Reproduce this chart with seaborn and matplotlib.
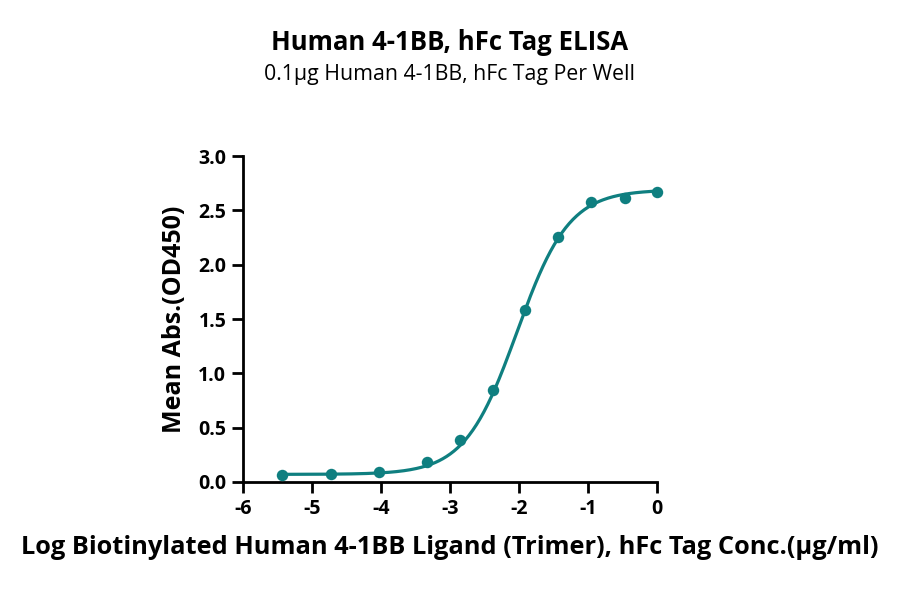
#------Import Modules--------------
import numpy as np
import pandas as pd
import matplotlib
matplotlib.use("Agg")
import matplotlib.pyplot as plt
import seaborn as sns

#-----------Data---------
log_conc = [-5.43, -4.73, -4.03, -3.34, -2.86, -2.38, -1.91, -1.43, -0.96, -0.47, 0.0]
mean_abs = [0.064, 0.070, 0.090, 0.180, 0.390, 0.850, 1.585, 2.257, 2.580, 2.615, 2.665]

x_ticks = [-6, -5, -4, -3, -2, -1, 0]
y_ticks = [0.0, 0.5, 1.0, 1.5, 2.0, 2.5, 3.0]

# 4PL fit parameters estimated from the curve
bottom, top, log_ec50, hill = 0.07, 2.69, -2.03, 1.15

teal = "#0f7f80"

points = pd.DataFrame({"x": log_conc, "y": mean_abs})
xs = np.linspace(min(log_conc), max(log_conc), 300)
fit = pd.DataFrame({"x": xs,
                    "y": bottom + (top - bottom) / (1 + 10 ** ((log_ec50 - xs) * hill))})

#------------------------------------------Visualization ------------------
sns.set_style("ticks")
plt.rcParams['font.family'] = ['Open Sans', 'DejaVu Sans']
plt.rcParams['axes.unicode_minus'] = False
plt.rcParams['text.color'] = 'black'
plt.rcParams['axes.labelcolor'] = 'black'
plt.rcParams['xtick.color'] = 'black'
plt.rcParams['ytick.color'] = 'black'

fig = plt.figure(figsize=(9, 5.89), dpi=100)
ax = fig.add_axes([0.27, 0.1817, 0.46, 0.5533])

sns.lineplot(x="x", y="y", data=fit, color=teal, linewidth=2.3, ax=ax)
sns.scatterplot(x="x", y="y", data=points, color=teal, s=68, edgecolor=teal,
                linewidth=0, ax=ax, zorder=3, clip_on=False)

ax.set_xlim(-6, 0)
ax.set_ylim(0, 3.0)
ax.set_xticks(x_ticks)
ax.set_xticklabels([str(v) for v in x_ticks], fontsize=14, fontweight="bold")
ax.set_yticks(y_ticks)
ax.set_yticklabels([f"{v:.1f}" for v in y_ticks], fontsize=14, fontweight="bold")
ax.tick_params(width=2, length=8, color="black", labelcolor="black", pad=4)
for s in ["left", "bottom"]:
    ax.spines[s].set_linewidth(2)
    ax.spines[s].set_color("black")
sns.despine(ax=ax)

ax.set_xlabel("Log Biotinylated Human 4-1BB Ligand (Trimer), hFc Tag Conc.(µg/ml)",
              fontsize=18.3, fontweight="bold", labelpad=12, color="black")
ax.set_ylabel("Mean Abs.(OD450)", fontsize=18, fontweight="bold", labelpad=8, color="black")

fig.text(0.5, 0.927, "Human 4-1BB, hFc Tag ELISA", ha="center", va="center",
         fontsize=18.5, fontweight="bold", color="black")
fig.text(0.5, 0.874, "0.1µg Human 4-1BB, hFc Tag Per Well", ha="center", va="center",
         fontsize=15.3, color="black")

fig.savefig("out.png", dpi=100)
print("saved...")
